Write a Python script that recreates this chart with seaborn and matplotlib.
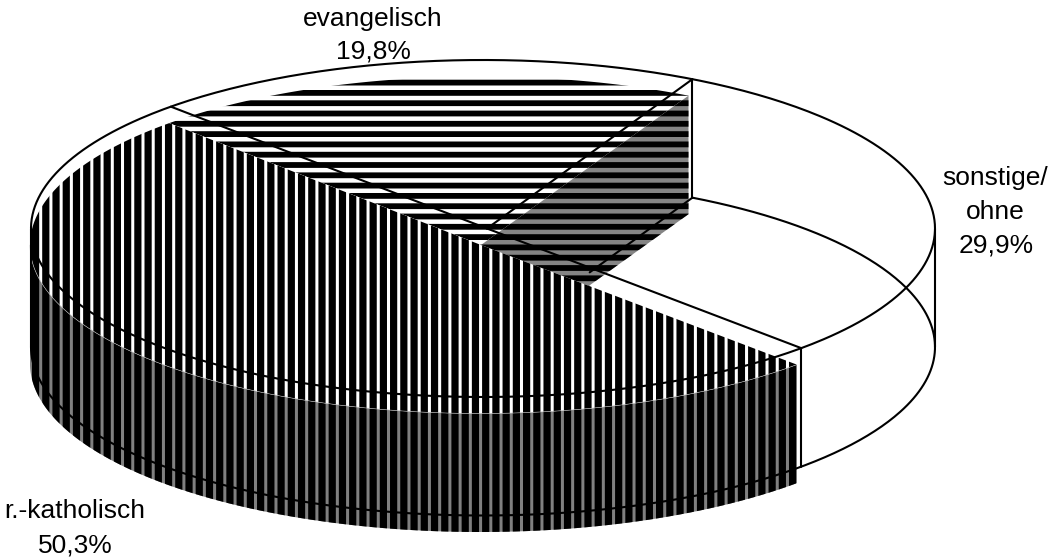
import numpy as np
import matplotlib
matplotlib.use("Agg")
import matplotlib.pyplot as plt
from matplotlib.patches import Polygon
import seaborn as sns

categories = ["sonstige/\nohne", "r.-katholisch", "evangelisch"]
shares = [29.9, 50.3, 19.8]
share_labels = ["29,9%", "50,3%", "19,8%"]

sns.set_theme(style="white")
plt.rcParams["font.family"] = ["Liberation Sans", "DejaVu Sans"]

W, H = 1050, 559
fig = plt.figure(figsize=(W / 100, H / 100), dpi=100, facecolor="white")
ax = fig.add_axes([0, 0, 1, 1])
ax.set_xlim(0, W)
ax.set_ylim(H, 0)
ax.axis("off")
sns.despine(ax=ax, left=True, bottom=True)

START = 62.4
A, B, DEPTH = 452.0, 168.5, 118.5
CX, CY = 483.0, 228.5
APEX_X = 487.0
FX, FY, FA = 480.0, 245.0, 450.0
OUT = 1.5
px = 0.72

bounds = START - np.cumsum([0] + shares) * 3.6
kat0, kat1 = bounds[1], bounds[2]
eva0, eva1 = bounds[2], bounds[3]


def arc(a0, a1, cx=CX, cy=CY, n=200, a=A):
    t = np.radians(np.linspace(a0, a1, n))
    return np.column_stack([cx + a * np.cos(t), cy - B * np.sin(t)])


def stripes(clip_xy, kind, face, lw, z):
    patch = Polygon(clip_xy, closed=True, facecolor=face, edgecolor="none", zorder=z)
    ax.add_patch(patch)
    if kind == "h":
        c = ax.hlines(np.arange(82.6, 400, 10.3), 0, W, color="black", lw=lw, zorder=z + 0.1)
    else:
        c = ax.vlines(np.arange(25.34, 820, 10.23), 0, H, color="black", lw=lw, zorder=z + 0.1)
    c.set_snap(False)
    c.set_clip_path(patch)


# evangelisch top surface
apex_fill = np.array([481.0, 245.0])
eva_arc = arc(eva0, eva1, FX, FY, a=FA)
stripes(np.vstack([apex_fill, eva_arc]), "h", "white", 5.8 * px, 1)

# inner wall behind the cut of evangelisch
rim = arc(START, START, FX, FY, 1, a=FA)[0]
wall = np.array([apex_fill, rim, rim + [0, DEPTH], apex_fill + [0, DEPTH]])
stripes(wall, "h", "#858585", 5.8 * px, 2)

# r.-katholisch outer wall
side_top = arc(kat0, -180, FX, FY, a=FA)
side_bot = arc(-180, kat0, FX, FY + DEPTH, a=FA)
stripes(np.vstack([side_top, side_bot]), "v", "#808080", 7.2 * px, 3)

# r.-katholisch top surface
kat_arc = arc(kat0, kat1, FX, FY, a=FA)
stripes(np.vstack([apex_fill, kat_arc]), "v", "white", 7.2 * px, 4)
ax.plot(*side_top.T, color="#b8b8b8", lw=0.4, zorder=5)

# wireframe
zl = 6
kw = dict(color="black", lw=OUT, zorder=zl, solid_capstyle="round")
ax.plot(*arc(0, 360, n=500).T, **kw)
ax.plot(*arc(START, -180, cy=CY + DEPTH, n=400).T, **kw)
apex = np.array([APEX_X, CY])
for ang in (bounds[0], bounds[1], bounds[2]):
    ax.plot(*np.array([apex, arc(ang, ang, n=1)[0]]).T, **kw)
for ang in (0, -180, START, kat0):
    p = arc(ang, ang, n=1)[0]
    ax.plot([p[0], p[0]], [p[1], p[1] + DEPTH], **kw)
lo_rim = arc(START, START, cy=CY + DEPTH, n=1)[0]
lo_apex = apex + [0, DEPTH]
ax.plot(*np.array([lo_rim, lo_rim + 0.5 * (lo_apex - lo_rim)]).T, **kw)

# labels
fs = 19
tk = dict(ha="center", va="baseline", fontsize=fs, color="black", zorder=10)
ax.text(372.5, 26, categories[2], **tk)
ax.text(373, 59, share_labels[2], **tk)
ax.text(995, 219, categories[0], linespacing=1.55, multialignment="center", **tk)
ax.text(996, 253, share_labels[0], **tk)
ax.text(75, 518, categories[1], **tk)
ax.text(75, 553, share_labels[1], **tk)

fig.savefig("out.png", dpi=100, facecolor="white")
